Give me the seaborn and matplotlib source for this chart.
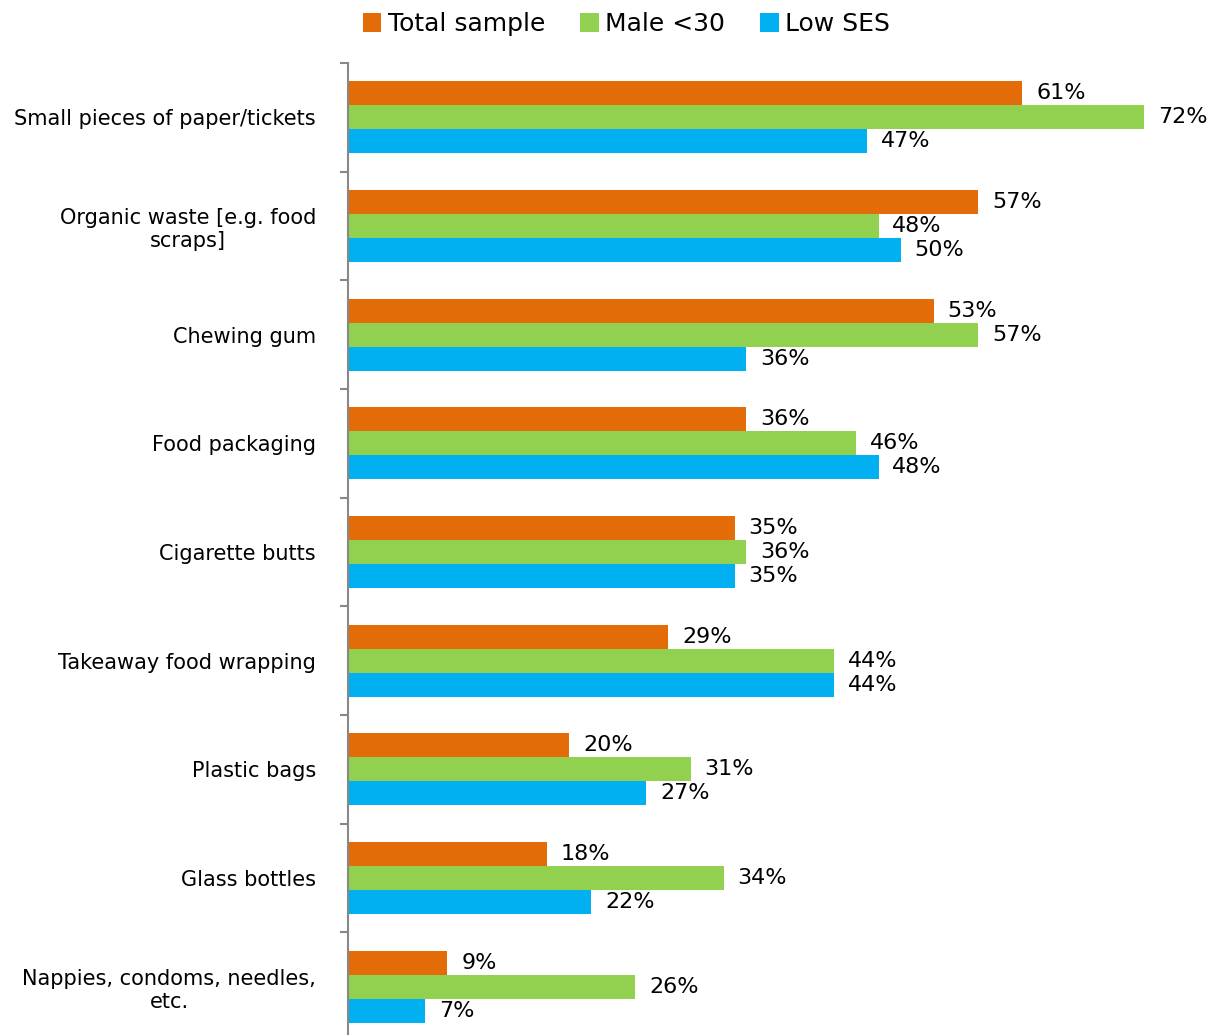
import matplotlib
matplotlib.use("Agg")
import matplotlib.pyplot as plt
import seaborn as sns
import pandas as pd
from matplotlib.ticker import FixedLocator
from matplotlib.patches import Patch

categories = [
    "Small pieces of paper/tickets",
    "Organic waste [e.g. food\nscraps]",
    "Chewing gum",
    "Food packaging",
    "Cigarette butts",
    "Takeaway food wrapping",
    "Plastic bags",
    "Glass bottles",
    "Nappies, condoms, needles,\netc.",
]
series_names = ["Total sample", "Male <30", "Low SES"]
total_sample = [61, 57, 53, 36, 35, 29, 20, 18, 9]
male_under_30 = [72, 48, 57, 46, 36, 44, 31, 34, 26]
low_ses = [47, 50, 36, 48, 35, 44, 27, 22, 7]
colors = ["#E36C09", "#92D050", "#00B0F0"]

rows = []
for name, vals in zip(series_names, [total_sample, male_under_30, low_ses]):
    for cat, v in zip(categories, vals):
        rows.append({"category": cat, "series": name, "value": v})
df = pd.DataFrame(rows)

sns.set_theme(style="white")
plt.rcParams["font.family"] = ["DejaVu Sans"]
plt.rcParams["text.color"] = "black"

fig = plt.figure(figsize=(12.09, 10.35), dpi=100)
ax = fig.add_axes([0.2878, -0.0058, 0.7122, 0.9449])

sns.barplot(data=df, y="category", x="value", hue="series", order=categories,
            hue_order=series_names, palette=colors, orient="h", width=0.663,
            saturation=1, legend=False, linewidth=0, ax=ax)

ax.set_xlim(0, 77.9)
ax.set_ylim(len(categories) - 0.5, -0.5)

for container in ax.containers:
    ax.bar_label(container, labels=[f"{int(round(b.get_width()))}%" for b in container],
                 padding=10, fontsize=16, color="black")

for s in ["top", "right", "bottom"]:
    ax.spines[s].set_visible(False)
ax.spines["left"].set_color("#888888")
ax.spines["left"].set_linewidth(1.5)

ax.set_xticks([])
ax.set_xlabel("")
ax.set_ylabel("")
ax.tick_params(axis="y", which="major", length=0, pad=23, labelsize=15,
               labelcolor="black")
for lab in ax.get_yticklabels():
    lab.set_multialignment("center")
ax.yaxis.set_minor_locator(FixedLocator([i - 0.5 for i in range(len(categories) + 1)]))
ax.tick_params(axis="y", which="minor", left=True, length=6, width=1.5, color="#888888")

handles = [Patch(facecolor=c, edgecolor="none") for c in colors]
fig.legend(handles, series_names, loc="upper center", bbox_to_anchor=(0.518, 1.01),
           ncol=3, frameon=False, fontsize=18, handlelength=0.75, handleheight=0.75,
           handletextpad=0.25, columnspacing=1.4, labelcolor="black")

fig.savefig("out.png", dpi=100)
